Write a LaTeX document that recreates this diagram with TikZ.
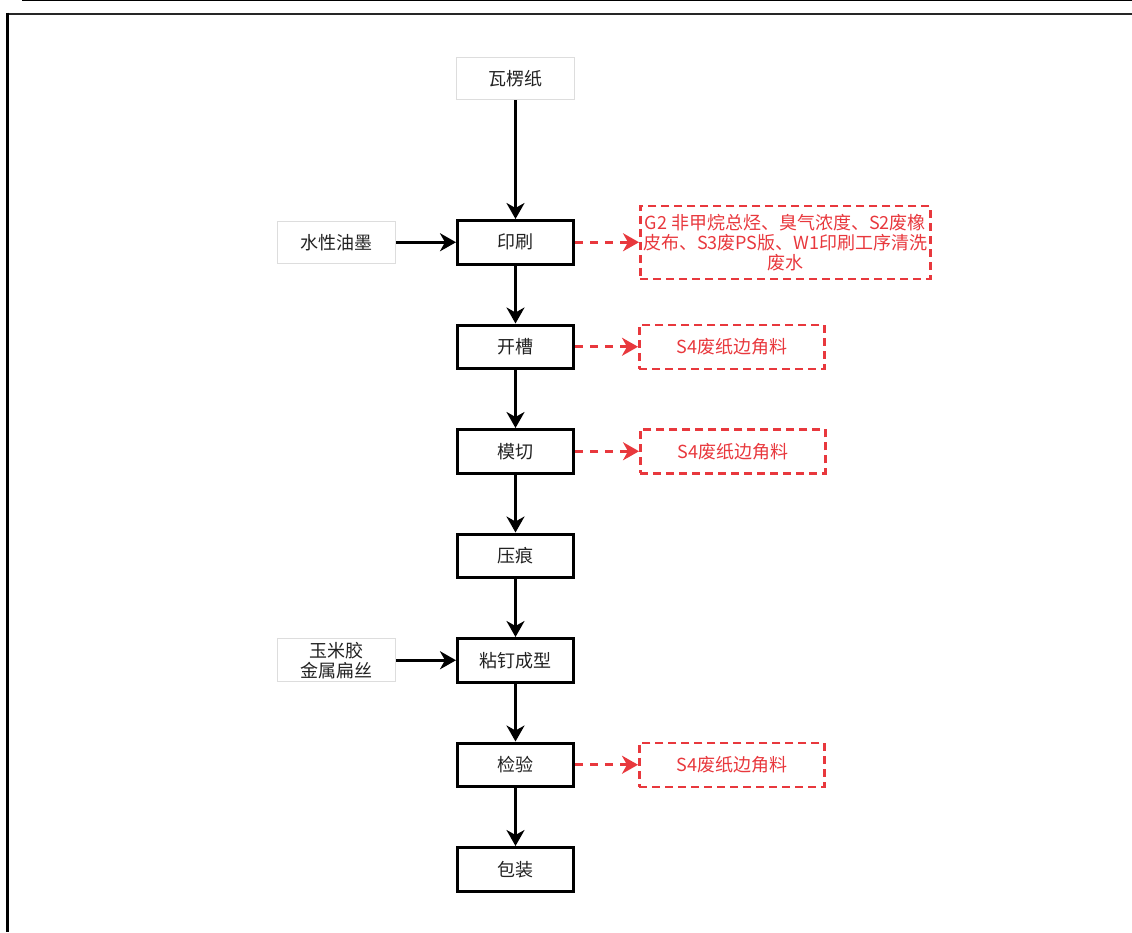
\documentclass[tikz,border=0pt]{standalone}
\usepackage{fontspec}
\setmainfont{Noto Sans CJK SC}
\usetikzlibrary{arrows.meta}
\usetikzlibrary{positioning}
\definecolor{wastered}{HTML}{E8383D}
\definecolor{textgray}{HTML}{222222}
\definecolor{boxgray}{HTML}{DDDDDD}
\tikzstyle{process} = [rectangle, minimum width=116pt, minimum height=43.5pt, text centered, draw=black, line width=3pt, text=textgray]
\tikzstyle{material} = [rectangle, minimum width=118pt, minimum height=42pt, align=center, draw=boxgray, line width=1pt, text=textgray]
\tikzstyle{waste} = [rectangle, minimum width=185pt, minimum height=44pt, inner xsep=1pt, align=center, draw=wastered, line width=2.5pt, dash pattern=on 8pt off 5pt, text=wastered]
\tikzstyle{arrow} = [line width=3pt,-{Stealth[length=16pt,width=18pt,inset=5pt]}]
\tikzstyle{wastearrow} = [line width=3pt, draw=wastered, dash pattern=on 8pt off 7pt, -{Stealth[length=16pt,width=18pt,inset=5pt,sep=0pt]}]

\begin{document}
\begin{tikzpicture}[font=\fontsize{18pt}{20pt}\selectfont]
\useasboundingbox (0,0) rectangle (1132pt,-932pt);
% page frame
\draw [line width=1.2pt] (22pt,-0.6pt) -- (1132pt,-0.6pt);
\draw [line width=2pt, black!85] (6pt,-13.5pt) -- (1132pt,-13.5pt);
\draw [line width=3pt] (7.5pt,-12.5pt) -- (7.5pt,-932pt);

\node (paper) [material] at (515.5pt,-78.5pt) {瓦楞纸};
\node (print) [process, below=119pt of paper] {印刷};
\node (slot) [process, below=58pt of print] {开槽};
\node (diecut) [process, below=58pt of slot] {模切};
\node (crease) [process, below=58pt of diecut] {压痕};
\node (glue) [process, below=58pt of crease] {粘钉成型};
\node (check) [process, below=58pt of glue] {检验};
\node (pack) [process, below=58pt of check] {包装};

\node (ink) [material, left=60pt of print] {水性油墨};
\node (wire) [material, left=60pt of glue] {玉米胶\\金属扁丝};

\node (w_print) [waste, minimum width=290pt, minimum height=73pt, right=64pt of print] {G2 非甲烷总烃、臭气浓度、S2废橡\\皮布、S3废PS版、W1印刷工序清洗\\废水};
\node (w_slot) [waste, right=63pt of slot] {S4废纸边角料};
\node (w_diecut) [waste, right=64pt of diecut] {S4废纸边角料};
\node (w_check) [waste, right=63pt of check] {S4废纸边角料};

\draw [arrow] (paper) -- (print);
\draw [arrow] (print) -- (slot);
\draw [arrow] (slot) -- (diecut);
\draw [arrow] (diecut) -- (crease);
\draw [arrow] (crease) -- (glue);
\draw [arrow] (glue) -- (check);
\draw [arrow] (check) -- (pack);
\draw [arrow] (ink) -- (print);
\draw [arrow] (wire) -- (glue);

\draw [wastearrow] (print) -- (w_print);
\draw [wastearrow] (slot) -- (w_slot);
\draw [wastearrow] (diecut) -- (w_diecut);
\draw [wastearrow] (check) -- (w_check);
\end{tikzpicture}
\end{document}
